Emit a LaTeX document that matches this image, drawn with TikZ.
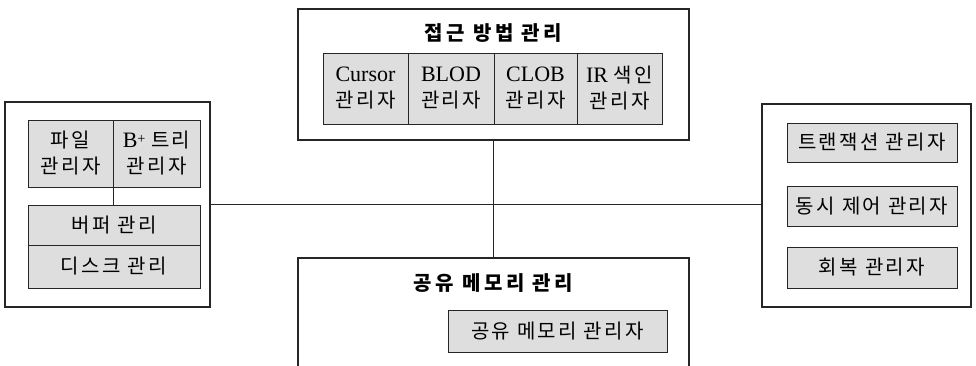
\documentclass[tikz,border=0pt]{standalone}
\usepackage{fontspec}
\setmainfont[Scale=1.1]{Liberation Serif}
\newfontfamily\kr[LetterSpace=12]{Noto Sans CJK KR}
\begin{document}
\begin{tikzpicture}[x=1pt, y=-1pt,
    outerbox/.style={draw=black!85, line width=1.1pt, fill=white, inner sep=0pt},
    cellbox/.style={draw=black!85, line width=0.9pt, fill=cellgray, inner sep=0pt,
        align=center, font=\fontsize{20}{26}\selectfont},
    titlelabel/.style={font=\fontsize{20}{24}\selectfont\bfseries, inner sep=0pt}]
    % Couleurs
    \definecolor{cellgray}{RGB}{222,222,222}
    \clip (0,0) rectangle (976,365);

    % Bloc du haut : acces
    \node[outerbox, minimum width=391, minimum height=131] (acc) at (493.5,74.5) {};
    \node[titlelabel] (accT) at (493.5,33) {\kr\addfontfeature{LetterSpace=18}접근 방법 관리};
    \node[cellbox, minimum width=85, minimum height=71] (cur) at (365.5,88.5) {Cursor\\{\kr 관리자}};
    \node[cellbox, minimum width=86, minimum height=71] (blod) at (451,88.5) {BLOD\\{\kr 관리자}};
    \node[cellbox, minimum width=83, minimum height=71] (clob) at (535.5,88.5) {CLOB\\{\kr 관리자}};
    \node[cellbox, minimum width=85, minimum height=71] (ir) at (619.5,88.5) {IR {\kr 색인}\\{\kr 관리자}};

    % Bloc de gauche : stockage
    \node[outerbox, minimum width=205, minimum height=205] (sto) at (107.5,204.5) {};
    \node[cellbox, minimum width=85, minimum height=67] (file) at (70.5,153.5) {{\kr 파일}\\{\kr 관리자}};
    \node[cellbox, minimum width=87, minimum height=67] (btree) at (156.5,153.5) {B\raisebox{0.45ex}{\fontsize{13}{13}\selectfont+} {\kr 트리}\\{\kr 관리자}};
    \node[cellbox, minimum width=172, minimum height=40] (buf) at (114,225) {\kr 버퍼 관리};
    \node[cellbox, minimum width=172, minimum height=43] (disk) at (114,266.5) {\kr 디스크 관리};
    \draw[line width=0.9pt, black!85] (file.south east) -- (buf.north -| file.south east);

    % Bloc de droite : transactions
    \node[outerbox, minimum width=209, minimum height=203] (trx) at (866.5,205.5) {};
    \node[cellbox, minimum width=170, minimum height=39] (txm) at (872,142.5) {\kr 트랜잭션 관리자};
    \node[cellbox, minimum width=170, minimum height=40] (ccm) at (872,206) {\kr 동시 제어 관리자};
    \node[cellbox, minimum width=170, minimum height=41] (rcm) at (872,267.5) {\kr 회복 관리자};

    % Bloc du bas : memoire partagee (ouvert en bas)
    \node[outerbox, minimum width=391, minimum height=130] (shm) at (493.5,323) {};
    \node[titlelabel] (shmT) at (493.5,283) {\kr\addfontfeature{LetterSpace=18}공유 메모리 관리};
    \node[cellbox, minimum width=219, minimum height=42] (shmm) at (557.5,331) {\kr 공유 메모리 관리자};

    % Liaisons
    \draw[line width=1.1pt, black!85] (sto.east) -- (sto.east -| trx.west);
    \draw[line width=1.1pt, black!85] (acc.south) -- (shm.north);
\end{tikzpicture}
\end{document}
